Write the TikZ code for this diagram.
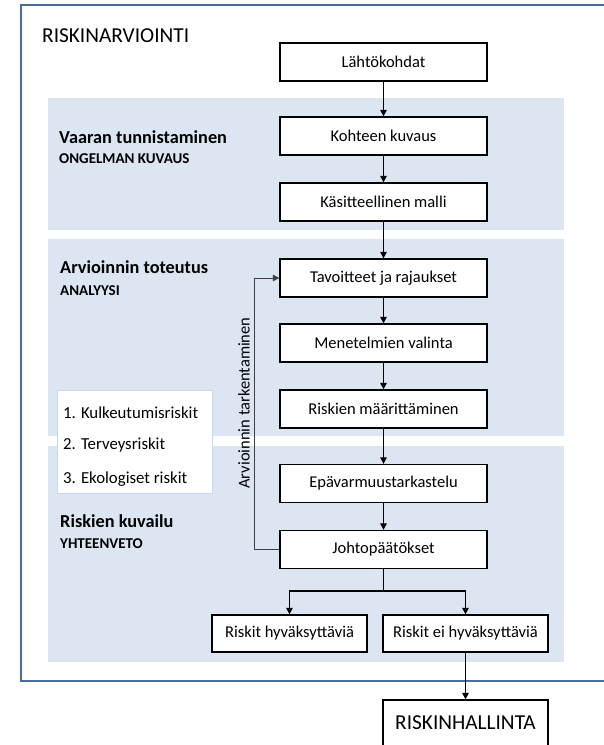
\documentclass[tikz,border=0pt]{standalone}
\usepackage{fontspec}
\setmainfont{Carlito}
\usetikzlibrary{arrows.meta}
\definecolor{bandfill}{RGB}{220,230,242}
\definecolor{framecol}{RGB}{74,109,153}
\definecolor{listborder}{RGB}{198,217,241}
\begin{document}
\begin{tikzpicture}[x=1pt,y=-1pt,
  stepbox/.style={draw, line width=1.3pt, fill=white, minimum width=207pt, minimum height=38pt, inner sep=0pt, font=\fontsize{16.5}{19}\selectfont},
  smallbox/.style={draw, line width=1.3pt, fill=white, minimum height=37pt, inner sep=0pt, font=\fontsize{16.5}{19}\selectfont},
  arr/.style={-{Triangle[length=6.5pt,width=6.5pt]}, line width=1.1pt},
  conn/.style={line width=1.1pt},
  band/.style={fill=bandfill, draw=none},
  head/.style={anchor=base west, inner sep=0pt, font=\fontsize{18.3}{21}\selectfont\bfseries},
  subhead/.style={anchor=base west, inner sep=0pt, font=\fontsize{15}{17}\selectfont\bfseries},
  listitem/.style={anchor=base west, inner sep=0pt, font=\fontsize{16.8}{19}\selectfont}]
\useasboundingbox (0,0) rectangle (604,745);
\clip (0,0) rectangle (604,745);
\fill[white] (0,0) rectangle (604,745);
% outer frame
\draw[framecol, line width=2pt] (21,5) rectangle (640,681);
\node[anchor=base west, inner sep=0pt, font=\fontsize{21.3}{24}\selectfont] (title) at (42,42) {RISKINARVIOINTI};
% bands
\fill[band] (48,98) rectangle (564,230);
\fill[band] (48,239) rectangle (564,436);
\fill[band] (48,446) rectangle (564,662);
% headings
\node[head] (h1) at (59,143) {Vaaran tunnistaminen};
\node[subhead] (s1) at (59,163) {ONGELMAN KUVAUS};
\node[head] (h2) at (60,273) {Arvioinnin toteutus};
\node[subhead] (s2) at (60,295) {ANALYYSI};
\node[head] (h3) at (60,527) {Riskien kuvailu};
\node[subhead] (s3) at (60,548) {YHTEENVETO};
% list box
\draw[listborder, line width=1pt, fill=white] (57,390) rectangle (212,493);
\node[listitem] (i1) at (63,418) {1. Kulkeutumisriskit};
\node[listitem] (i2) at (63,449) {2. Terveysriskit};
\node[listitem] (i3) at (63,483) {3. Ekologiset riskit};
% main boxes
\node[stepbox] (L) at (383.5,62) {Lähtökohdat};
\node[stepbox] (K) at (383.5,136) {Kohteen kuvaus};
\node[stepbox] (KM) at (383.5,202) {Käsitteellinen malli};
\node[stepbox] (T) at (383.5,278) {Tavoitteet ja rajaukset};
\node[stepbox] (M) at (383.5,343) {Menetelmien valinta};
\node[stepbox] (R) at (383.5,409) {Riskien määrittäminen};
\node[stepbox] (E) at (383.5,483.5) {Epävarmuustarkastelu};
\node[stepbox] (J) at (383.5,549.5) {Johtopäätökset};
\node[smallbox, minimum width=155pt] (RH1) at (289.5,633.5) {Riskit hyväksyttäviä};
\node[smallbox, minimum width=165pt] (RH2) at (465.5,633.5) {Riskit ei hyväksyttäviä};
\node[draw, line width=1.3pt, fill=white, minimum width=165pt, minimum height=46pt, inner sep=0pt, font=\fontsize{21.3}{24}\selectfont] (RHall) at (465.5,723) {RISKINHALLINTA};
% arrows
\draw[arr] (L) -- (K);
\draw[arr] (K) -- (KM);
\draw[arr] (KM) -- (T);
\draw[arr] (T) -- (M);
\draw[arr] (M) -- (R);
\draw[arr] (R) -- (E);
\draw[arr] (E) -- (J);
\coordinate (br) at (383.5,591);
\draw[conn] (J.south) -- (br);
\draw[arr] (br) -| (RH1.north);
\draw[arr] (br) -| (RH2.north);
\draw[arr] (RH2.south) -- (RHall.north);
% feedback loop
\coordinate (fb) at (254,549.5);
\draw[arr, line width=1pt, black!75] (J.west) -- (fb) |- (T.west);
\node[rotate=90, inner sep=0pt, font=\fontsize{16.5}{19}\selectfont] (lbl) at (244,403) {Arvioinnin tarkentaminen};
\end{tikzpicture}
\end{document}
